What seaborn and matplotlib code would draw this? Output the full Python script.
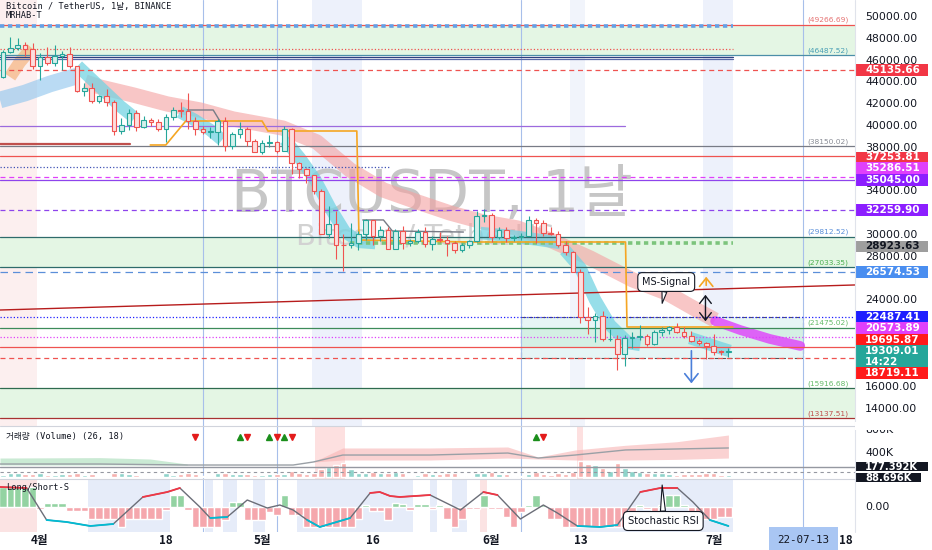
import numpy as np
import pandas as pd
import seaborn as sns
import matplotlib.pyplot as plt
import matplotlib.transforms as mtrans
from matplotlib.patches import Rectangle

sns.set_theme(style='white')
plt.rcParams['font.family'] = ['DejaVu Sans', 'Noto Sans CJK KR']
MONO = ['DejaVu Sans Mono', 'Noto Sans CJK KR']
KR = ['Noto Sans CJK KR', 'DejaVu Sans']

# daily candles BTCUSDT 2022-03-27 .. 2022-07-03 (x = days since 1 April)
dates = pd.date_range('2022-03-27', '2022-07-03', freq='D')
days = np.asarray((dates - pd.Timestamp('2022-04-01')).days)

opens = [44511, 46827, 47122, 47434, 47067,
         45510, 46283, 45811, 46407, 46580, 45497, 43170, 43444, 42252, 42753,
         42158, 39530, 40074, 41147, 39942, 40551, 40378, 39678, 40801, 41493,
         41358, 40480, 39709, 39441, 39450, 40426, 38112, 39235, 39742, 38596,
         37630, 38468, 38525, 37728, 39690, 36552, 36013, 35472, 34038, 30076,
         31017, 29103, 29029, 29287, 30086, 31328, 29874, 30424, 28715, 30319,
         29201, 29445, 30293, 29109, 29655, 29543, 29202, 28622, 29019, 29443, 31723,
         31792, 29799, 30467, 29705, 29832, 29906, 31371, 31125, 30205, 30110,
         29091, 28424, 26575, 22487, 22136, 22583, 20401, 20469, 19017, 20553,
         20599, 20710, 19987, 21111, 21227, 21502, 21028, 20735, 20280, 20105,
         19785, 19270, 19243]
highs = [46999, 48189, 48096, 47700, 47600,
         46720, 47213, 47444, 46890, 47200, 45507, 43900, 43970, 42800, 43410,
         42414, 40699, 41561, 41500, 40870, 40709, 40595, 41116, 41760, 42199,
         42976, 40795, 39980, 39940, 40617, 40797, 39474, 40372, 39925, 38795,
         38675, 39167, 38651, 40023, 39845, 36660, 36146, 35514, 34243, 32658,
         32162, 30032, 31083, 30343, 31460, 31328, 30788, 30700, 30545, 30777,
         29588, 30487, 30670, 29844, 30223, 29880, 29397, 29250, 29557, 32222, 32399,
         31982, 30689, 30675, 29948, 30173, 31765, 31557, 31330, 30700, 30384,
         29440, 28544, 26895, 23362, 22800, 22980, 21365, 20792, 20815, 21090,
         21723, 20900, 21233, 21558, 21614, 21868, 21540, 21200, 20432, 20141,
         20876, 19409, 19640]
lows = [44422, 46663, 46950, 46445, 45200,
        44200, 45620, 45530, 45118, 45353, 43121, 42727, 42107, 42125, 41868,
        39200, 39254, 39588, 39551, 39766, 39991, 39546, 38536, 40571, 40820,
        39751, 39177, 39285, 38929, 38200, 37702, 37881, 38881, 38175, 37578,
        37386, 38052, 37517, 37670, 35571, 35258, 34785, 33714, 30033, 29730,
        27785, 26700, 28751, 28630, 29480, 29087, 29450, 28654, 28693, 28730,
        28947, 29255, 28866, 28630, 29294, 28019, 28282, 28450, 28780, 29299, 31200,
        29301, 29594, 29318, 29451, 29488, 29883, 29218, 29843, 29944, 28850,
        28099, 26560, 21925, 20846, 20111, 20232, 20246, 17622, 17960, 19637,
        20348, 19770, 19890, 20740, 20906, 20970, 20510, 20164, 19854, 18626,
        18975, 18978, 18781]
closes = [46827, 47122, 47434, 47067, 45510,
          46283, 45811, 46407, 46580, 45497, 43170, 43444, 42252, 42753, 42158,
          39530, 40074, 41147, 39942, 40551, 40378, 39678, 40801, 41493, 41358,
          40480, 39709, 39441, 39450, 40426, 38112, 39235, 39742, 38596, 37630,
          38468, 38525, 37728, 39690, 36552, 36013, 35472, 34038, 30076, 31017,
          29103, 29029, 29287, 30086, 31328, 29874, 30424, 28715, 30319, 29201,
          29445, 30293, 29109, 29655, 29543, 29202, 28622, 29019, 29443, 31723, 31792,
          29799, 30467, 29705, 29832, 29906, 31371, 31125, 30205, 30110, 29091,
          28424, 26575, 22487, 22136, 22583, 20401, 20469, 19017, 20553, 20599,
          20710, 19987, 21111, 21227, 21502, 21028, 20735, 20280, 20105, 19785,
          19270, 19243, 19309]
volumes_k = [40, 75, 60, 45, 55,
             60, 35, 30, 55, 45, 75, 40, 45, 20, 25, 70, 65, 45, 40, 25,
             15, 20, 60, 40, 50, 75, 55, 20, 20, 60, 60, 50, 55, 45, 35,
             35, 45, 45, 55, 95, 70, 45, 60, 140, 170, 200, 230, 130, 75, 60,
             85, 60, 75, 85, 70, 25, 30, 70, 55, 45, 60, 75, 25, 25, 60, 65,
             80, 50, 45, 20, 20, 55, 85, 55, 40, 60, 50, 90, 270, 220, 210,
             150, 110, 230, 160, 100, 80, 70, 65, 60, 45, 35, 50, 55, 50, 75,
             70, 30, 35]
stoch_hist = [40, 40, 40, 40, 40,
              -4, 8, 8, 8, -8, -8, -8, -24, -24, -24, -24, -40,
              -24, -24, -24, -24, -24, -5, 24, 24, -5, -40, -40, -40, -40, -25,
              10, 10, -25, -25, -25, -10, -15, 24, -15, -15,
              -40, -40, -40, -40, -40, -40, -40, -24, 5, -8, -8, -25, 8,
              6, -5, 6, 6, -4, 4, -24, -40, -24, -4, -4, 25, -4, -4, -20, -40,
              -10, 5, 24, 5, -24, -24,
              -40, -40, -40, -40, -40, -40, -40, -40, -40, -40,
              5, -4, -24, 5, 24, 24, 5, -24, -24, -24, -24, -20, -20]

# stochastic RSI line
stoch_days = [-5.4, -1.8, 0.9, 3.6, 6.8, 9.9, 13.9, 17.2, 18.9, 21.6, 23.0, 25.3,
              28.0, 30.7, 32.4, 34.2, 36.1, 37.8, 41.9, 44.6, 45.9, 47.3, 48.6,
              52.7, 56.8, 59.9, 61.8, 64.9, 68.0, 69.9, 72.6, 75.7, 78.0, 81.1,
              83.8, 86.1, 88.2, 90.5, 93.0]
stoch_vals = [40, 38, -26, -30, -38, -34, 20, 30, 38, 0, -22, -20,
              14, -2, 4, -6, -26, -40, -22, 28, 30, 22, 20,
              24, -6, 30, 24, -24, 4, -12, -38, -40, -36, 30,
              38, 38, 10, -26, -38]

# moving-average ribbons on price
ema_days = [6.1, 8.1, 12.6, 17.2, 21.6, 26.1, 32.8, 37.4, 41.9, 46.4, 51.0,
            55.4, 59.9, 64.5, 68.9, 74.3, 80.1, 84.7, 89.2, 91.2]
ema_vals = [44030, 43570, 42840, 42010, 41460, 40630, 39800, 38520, 35950,
            34110, 33010, 32000, 31170, 30620, 29520, 27870, 25850, 24650,
            22910, 22170]
ema_tail_days = [91.2, 94.6, 98.6, 102.7]
ema_tail_vals = [22080, 21250, 20430, 19790]
blue_band_days = [-5.4, -2.0, 1.35, 5.0]
blue_band_vals = [42380, 43020, 43850, 44580]
orange_band_days = [-4.05, -2.7, -1.1]
orange_band_vals = [44490, 45870, 47150]
cyan_segments = [
    ([5.1, 6.8, 8.8, 10.8, 12.8], [45500, 44400, 43110, 41830, 40730]),
    ([18.9, 20.9, 23.0, 24.6], [41280, 40540, 39620, 38710]),
    ([33.1, 35.1, 37.2, 39.2, 41.2, 43.2, 45.3],
     [38710, 37050, 35030, 32460, 30250, 29340, 29240]),
    ([59.5, 63.5, 67.6, 70.3], [30160, 29890, 29520, 29240]),
    ([70.9, 73.0, 75.0, 77.0, 79.5, 81.1], [28600, 26950, 24010, 21710, 20060, 19880]),
    ([87.8, 89.9, 91.9, 93.2], [20520, 20060, 19600, 19330]),
]
orange_step_days = [14.9, 17.0, 19.7, 30.0, 30.8, 42.8, 43.1, 58.1, 79.1, 79.3, 93.6]
orange_step_vals = [38245, 38245, 40449, 40449, 39530, 39530, 29520, 29336, 29336, 21530, 21530]
gray_step_segments = [
    ([19.9, 23.4, 24.3], [41460, 41460, 40450]),
    ([43.6, 46.4, 47.6, 57.2], [31360, 31360, 30350, 30250]),
]

# horizontal levels: price, colour, style, x-range
levels = [
    (49266.69, '#ef5350', '-', 'full'), (46487.52, '#4b8ea8', '-', 'full'),
    (46326, '#2f3f7f', '-', 'bars'), (46143, '#5a6aa8', '-', 'bars'),
    (47060, '#ef5350', ':', 'bars'), (45135.66, '#ef5350', (0, (4, 3)), 'full'),
    (38150.02, '#787b86', '-', 'full'), (37253.81, '#ef5350', '-', 'full'),
    (36225, '#3f51b5', ':', 'left'), (35286.51, '#e040fb', (0, (4, 3)), 'full'),
    (35045.00, '#8e44ec', '-', 'full'), (32259.90, '#8e44ec', (0, (4, 3)), 'full'),
    (29812.52, '#2e6b6b', '-', 'full'), (27033.35, '#2e6b6b', '-', 'full'),
    (26574.53, '#5b8fd9', (0, (6, 4)), 'full'), (22487.41, '#1e1eff', ':', 'full'),
    (21475.02, '#3d8b5a', '-', 'full'), (20573.89, '#e040fb', ':', 'full'),
    (19695.87, '#ef5350', '-', 'full'), (18719.11, '#ef5350', (0, (4, 3)), 'full'),
    (15916.68, '#2e6b4f', '-', 'full'), (13137.51, '#a83232', '-', 'full'),
]
level_notes = [(49266.69, '#e57373'), (46487.52, '#4a9fb5'), (38150.02, '#8a8d96'),
               (29812.52, '#5b8fd9'), (27033.35, '#4caf50'), (21475.02, '#66bb6a'),
               (15916.68, '#66bb6a'), (13137.51, '#c0504d')]
green_zones = [(49128, 46487.52), (29812.52, 27033.35), (15916.68, 13137.51)]
trend_days = [-5.4, 110.1]
trend_vals = [23090, 25390]

# price tags on the right axis: value, text position, background, text colour
price_tags = [
    (45135.66, 45135.66, '#f23645', 'white'), (37253.81, 37100, '#f23645', 'white'),
    (35286.51, 36133, '#e040fb', 'white'), (35045.00, 35045.00, '#8c1eff', 'white'),
    (32259.90, 32259.90, '#8c1eff', 'white'), (28923.63, 28923.63, '#9e9e9e', '#131722'),
    (26574.53, 26574.53, '#4a8ef0', 'white'), (22487.41, 22487.41, '#1e1eff', 'white'),
    (20573.89, 21438, '#e040fb', 'white'), (19695.87, 20336, '#ff1a1a', 'white'),
    (18719.11, 17305, '#ff1a1a', 'white'),
]
price_ticks = [50000, 48000, 46000, 44000, 42000, 40000, 38000, 34000, 30000,
               28000, 24000, 16000, 14000]
last_price = 19309.01
vol_lines_k = [177.392, 88.696]

buy_days = [27, 31, 33, 67]
sell_days = [21, 28, 32, 34, 68]

xtick_days = [0, 17, 30, 45, 61, 73, 91, 108.8]
xtick_labels = ['4월', '18', '5월', '16', '6월', '13', '7월', '18']
vlines_days = [22.0, 32.0, 65.0, 103.1]

UP, DN = '#26a69a', '#ef5350'

# ---------------- figure ----------------
W, H = 932, 550
fig = plt.figure(figsize=(W / 100, H / 100), dpi=100)


def pane(top, bottom):
    return [0, 1 - bottom / H, 855 / W, (bottom - top) / H]


ax = fig.add_axes(pane(0, 426))
axv = fig.add_axes(pane(426, 479), sharex=ax)
axs = fig.add_axes(pane(479, 532), sharex=ax)
for a in (ax, axv, axs):
    a.set_facecolor('white')
    a.set_xticks([])
    a.set_yticks([])
    for s in a.spines.values():
        s.set_visible(False)
ax.set_xlim(-5.4, 110.1)
ax.set_ylim(12437, 51561)
axv.set_ylim(-34, 868)
axs.set_ylim(-50, 56)

xmax_bars = 93.6
# vertical background bands
for a0, a1, col in [(-5.4, -0.4, '#fcefef'), (36.8, 43.5, '#edf1fb'),
                    (71.6, 73.6, '#f1f4fb'), (89.6, 93.6, '#edf1fb')]:
    ax.axvspan(a0, a1, color=col, zorder=0, lw=0)
for a0, a1 in [(37.2, 41.2), (72.6, 73.4)]:
    axv.axvspan(a0, a1, color='#fde0e0', zorder=0, lw=0)
for a0, a1 in [(6.5, 17.6), (22.3, 23.4), (24.7, 26.6), (28.8, 30.4), (34.7, 50.4),
               (52.7, 53.6), (55.7, 57.7), (71.6, 93.6)]:
    axs.axvspan(a0, a1, color='#e6ecf9', zorder=0, lw=0)
for a0, a1 in [(-5.4, -0.4), (59.5, 60.4)]:
    axs.axvspan(a0, a1, color='#fbe3e3', zorder=0, lw=0)

for lo_, hi_ in green_zones:
    ax.fill_between([-5.4, 110.1], lo_, hi_, color='#e4f6e4', zorder=0.5, lw=0)

# watermark
ax.text(53, 33650, 'BTCUSDT, 1날', fontsize=42, color='#c6c6c6', ha='center',
        va='center', zorder=1)
ax.text(52, 29800, 'Bitcoin / TetherUS', fontsize=21, color='#d2d2d2', ha='center',
        va='center', zorder=1)

# zone box
ax.add_patch(Rectangle((65.0, 18719.11), 38.1, 22487.41 - 18719.11, facecolor='#e6f5f5',
                       edgecolor='#555555', ls=(0, (4, 2)), lw=0.8, zorder=1))
ax.fill_between([65.0, 103.1], 19695.87, 21475.02, color='#d4efe4', zorder=1.1, lw=0)

# ribbons
sns.lineplot(x=blue_band_days, y=blue_band_vals, ax=ax, color='#8cc4ee', lw=12,
             alpha=0.6, legend=False, zorder=2, solid_capstyle='butt')
sns.lineplot(x=orange_band_days, y=orange_band_vals, ax=ax, color='#f4a460', lw=9,
             alpha=0.55, legend=False, zorder=2, solid_capstyle='butt')
sns.lineplot(x=ema_days, y=ema_vals, ax=ax, color='#f4a0a0', lw=11, alpha=0.6,
             legend=False, zorder=2, solid_capstyle='butt')
sns.lineplot(x=ema_tail_days, y=ema_tail_vals, ax=ax, color='#e040fb', lw=7,
             alpha=0.8, legend=False, zorder=2, solid_capstyle='round')
for sd, sv in cyan_segments:
    sns.lineplot(x=sd, y=sv, ax=ax, color='#74d3e2', lw=9, alpha=0.75,
                 legend=False, zorder=2, solid_capstyle='butt')

# level lines
for price, col, ls, span in levels:
    x0, x1 = {'full': (-5.4, 110.1), 'bars': (-5.4, xmax_bars),
              'left': (-5.4, 47.3)}[span]
    ax.plot([x0, x1], [price, price], color=col, ls=ls, lw=0.9, zorder=6)
ax.plot([-5.4, xmax_bars], [49128, 49128], color='#64a0e6', ls=(0, (1.2, 1)),
        lw=2.6, zorder=6)
ax.plot([41.9, xmax_bars], [29240, 29240], color='#7cc47c', ls=(0, (1.2, 1)),
        lw=2.6, zorder=6)
ax.plot([-5.4, 79.0], [40000, 40000], color='#9c6ade', lw=0.9, zorder=6)
ax.plot([-5.4, 12.2], [38340, 38340], color='#c0504d', lw=1.6, zorder=6)
ax.plot(trend_days, trend_vals, color='#b71c1c', lw=1.0, zorder=6)
for price, col in level_notes:
    ax.text(109.2, price + 140, f'({price:.2f})', color=col, fontsize=5.4,
            ha='right', va='bottom', zorder=7)

ax.plot(orange_step_days, orange_step_vals, color='#f5a623', lw=1.2, zorder=6)
for sd, sv in gray_step_segments:
    ax.plot(sd, sv, color='#787b86', lw=1.0, zorder=6)

# candles
o, h, l, c = map(np.asarray, (opens, highs, lows, closes))
up = c >= o
edge = np.where(up, UP, DN)
face = np.where(up, '#d4f0ec', '#fcdede')
ax.vlines(days, l, h, colors=edge, lw=0.8, zorder=7)
ax.bar(days, np.maximum(np.abs(c - o), 60), bottom=np.minimum(o, c), width=0.62,
       color=face, edgecolor=edge, linewidth=0.8, zorder=8)

# arrows and callout
ax.annotate('', xy=(90.0, 26400), xytext=(90.0, 25100),
            arrowprops=dict(arrowstyle='->,head_length=0.5,head_width=0.4',
                            color='#f5a623', lw=1.2), zorder=9)
ax.annotate('', xy=(89.9, 21800), xytext=(89.9, 24740),
            arrowprops=dict(arrowstyle='<->,head_length=0.45,head_width=0.35',
                            color='#131722', lw=1.0), zorder=9)
ax.annotate('', xy=(88.0, 16100), xytext=(88.0, 19600),
            arrowprops=dict(arrowstyle='->,head_length=0.5,head_width=0.4',
                            color='#4a7fd9', lw=1.2), zorder=9)
ax.annotate('MS-Signal', xy=(84.05, 23700), xytext=(84.6, 25660), fontsize=7,
            color='#131722', ha='center', va='center', zorder=10,
            bbox=dict(boxstyle='round,pad=0.45', fc='white', ec='#131722', lw=0.8),
            arrowprops=dict(arrowstyle='wedge,tail_width=0.5', fc='white',
                            ec='#131722', lw=0.8, shrinkA=0, shrinkB=0))

# volume pane
axv.bar(days, volumes_k, width=0.75, color=np.where(up, '#8ed3ca', '#f6b0ae'), zorder=3)
axv.plot([-5.4, 110.1], [vol_lines_k[0]] * 2, color='#9598a1', lw=1.0, zorder=4)
axv.plot([-5.4, 110.1], [vol_lines_k[1]] * 2, color='#9598a1', lw=0.8,
         ls=(0, (3, 3)), zorder=4)
axv.fill_between([-5.4, 8.1, 14.9, 19.9], [204, 204, 204, 204], [323, 330, 306, 221],
                 color='#a8dcb8', alpha=0.6, lw=0, zorder=2)
axv.fill_between([36.9, 40.9, 52.7, 63.2, 67.3, 72.3, 79.1, 86.0, 93.0],
                 [255, 289, 289, 323, 306, 289, 289, 300, 323],
                 [255, 494, 494, 511, 340, 460, 540, 600, 715],
                 color='#f8b4b4', alpha=0.6, lw=0, zorder=2)
sns.lineplot(x=[-5.4, 8.1, 19.9, 34.2, 36.9, 40.9, 52.7, 63.2, 67.3, 72.3, 79.1, 93.0],
             y=[221, 221, 204, 204, 255, 374, 374, 408, 323, 374, 460, 494],
             ax=axv, color='#9aa0a6', lw=1.0, legend=False, zorder=3)
axv.plot(buy_days, [681] * len(buy_days), ls='none', marker='^', ms=4.5,
         color='#1b8e1b', zorder=5)
axv.plot(sell_days, [681] * len(sell_days), ls='none', marker='v', ms=4.5,
         color='#e31b1b', zorder=5)

# stochastic pane
hist = np.asarray(stoch_hist)
axs.bar(days, hist, width=1.0, color=np.where(hist > 0, '#93d3a2', '#f5a7ad'), zorder=2)
sv = np.asarray(stoch_vals, dtype=float)
sns.lineplot(x=stoch_days, y=stoch_vals, ax=axs, color='#6b6e78', lw=1.0,
             legend=False, zorder=4)
axs.plot(stoch_days, np.where(sv >= 20, sv, np.nan), color='#f23645', lw=1.3, zorder=5)
axs.plot(stoch_days, np.where(sv <= -20, sv, np.nan), color='#00bcd4', lw=1.3, zorder=5)
axs.annotate('Stochastic RSI', xy=(84.05, 44), xytext=(84.2, -28), fontsize=7.2,
             color='#131722', ha='center', va='center', zorder=10,
             bbox=dict(boxstyle='round,pad=0.45', fc='white', ec='#131722', lw=0.8),
             arrowprops=dict(arrowstyle='wedge,tail_width=0.5', fc='white',
                             ec='#131722', lw=0.8, shrinkA=0, shrinkB=0))

for a in (ax, axv, axs):
    for d in vlines_days:
        a.axvline(d, color='#a7bfea', lw=0.8, zorder=1.5)


# right price scale
def tag(a, y, text, bg, fg, hpx, scale, w=0.0854, fs=7.5):
    tr = mtrans.blended_transform_factory(a.transAxes, a.transData)
    hh = hpx * scale
    a.add_patch(Rectangle((1.0, y - hh / 2), w, hh, transform=tr, clip_on=False,
                          facecolor=bg, edgecolor='none', zorder=20))
    a.text(1.012, y, text, transform=tr, color=fg, fontsize=fs, fontweight='bold',
           va='center', ha='left', clip_on=False, zorder=21)


trm = mtrans.blended_transform_factory(ax.transAxes, ax.transData)
for p in price_ticks:
    ax.text(1.012, p, f'{p:.2f}', transform=trm, color='#131722', fontsize=7.9,
            va='center', ha='left', clip_on=False, zorder=15)
for value, ypos, bg, fg in price_tags:
    tag(ax, ypos, f'{value:.2f}', bg, fg, 11.5, 91.84)
ax.add_patch(Rectangle((1.0, 18866 - 1010), 0.0854, 2020, transform=trm, clip_on=False,
                       facecolor='#26a69a', edgecolor='none', zorder=20))
ax.text(1.012, 18866 + 440, f'{last_price:.2f}', transform=trm, color='white',
        fontsize=7.5, fontweight='bold', va='center', clip_on=False, zorder=21)
ax.text(1.012, 18866 - 520, '14:22', transform=trm, color='white', fontsize=7.5,
        fontweight='bold', va='center', clip_on=False, zorder=21)

trv = mtrans.blended_transform_factory(axv.transAxes, axv.transData)
for k in (800, 400):
    axv.text(1.012, k, f'{k}K', transform=trv, color='#131722', fontsize=7.9,
             va='center', clip_on=False, zorder=15)
tag(axv, 177.392, '177.392K', '#131722', 'white', 9.5, 17.02, fs=7.2)
tag(axv, 88.696 - 100, '88.696K', '#131722', 'white', 9.5, 17.02, w=0.077, fs=7.2)
trs = mtrans.blended_transform_factory(axs.transAxes, axs.transData)
axs.text(1.012, 0, '0.00', transform=trs, color='#131722', fontsize=7.9,
         va='center', clip_on=False, zorder=15)
fig.add_artist(Rectangle((855 / W, 1 - 429.5 / H), 77 / W, 8 / H, transform=fig.transFigure,
                         facecolor='white', edgecolor='none', zorder=30))

# separators
for yy in (426, 479):
    fig.add_artist(plt.Line2D([0, 855 / W], [1 - yy / H] * 2, color='#d1d4dc', lw=0.8))
fig.add_artist(plt.Line2D([855 / W] * 2, [1 - 532 / H, 1], color='#e0e3eb', lw=0.8))

# time axis
trx = mtrans.blended_transform_factory(axs.transData, axs.transAxes)
for d, lab in zip(xtick_days, xtick_labels):
    axs.text(d, -0.16, lab, transform=trx, family=KR, fontsize=8.3, fontweight='bold',
             color='#131722', ha='center', va='center', clip_on=False, zorder=3)
axs.text(103.1, -0.16, '22-07-13', transform=trx, family=MONO, fontsize=7.8,
         color='#131722', ha='center', va='center', clip_on=False, zorder=25,
         bbox=dict(boxstyle='square,pad=0.8', fc='#a9c6f3', ec='none'))

# pane titles
fig.text(6 / W, 1 - 7 / H, 'Bitcoin / TetherUS, 1날, BINANCE', family=MONO, fontsize=6.2,
         color='#131722', va='center')
fig.text(6 / W, 1 - 15 / H, 'MRHAB-T', family=MONO, fontsize=6.2, color='#131722',
         va='center')
fig.text(6 / W, 1 - 436 / H, '거래량 (Volume) (26, 18)', family=MONO, fontsize=6.2,
         color='#131722', va='center')
fig.text(6 / W, 1 - 488 / H, 'Long/Short-S', family=MONO, fontsize=6.2, color='#131722',
         va='center')

fig.savefig('out.png', dpi=100, facecolor='white')
